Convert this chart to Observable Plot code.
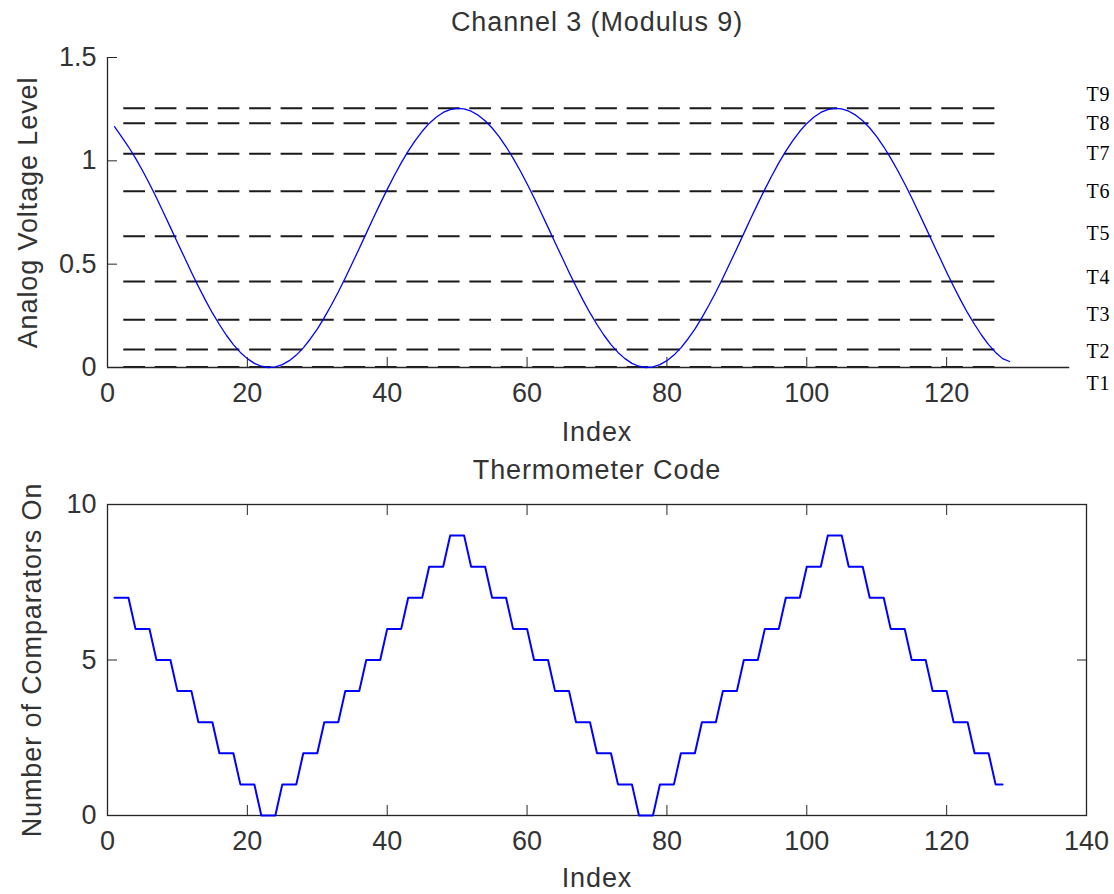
<!DOCTYPE html>
<html>
<head>
<meta charset="utf-8">
<script src="https://cdn.jsdelivr.net/npm/d3@7"></script>
<script src="https://cdn.jsdelivr.net/npm/@observablehq/plot@0.6"></script>
<style>
  html, body { margin: 0; padding: 0; background: #fff; }
  #wrap { position: relative; width: 1114px; height: 894px; overflow: hidden; background: #fff; }
  #wrap svg { display: block; }
  #wrap svg g[aria-label="text"] text { letter-spacing: 0.9px; }
</style>
</head>
<body>
<div id="wrap"></div>
<script>
// ---- Data ----
const topTitle = "Channel 3 (Modulus 9)";
const bottomTitle = "Thermometer Code";
const xLabel = "Index";
const topYLabel = "Analog Voltage Level";
const bottomYLabel = "Number of Comparators On";

// analog voltage, samples 1..129
const voltage = [
  1.165,1.117,1.068,1.013,0.953,0.889,0.821,0.750,0.678,0.605,0.533,0.461,0.392,0.326,0.264,0.208,0.156,0.111,0.073,0.043,0.020,0.006,
  0.000,
  0.003,0.014,0.033,0.060,0.095,0.138,0.186,0.241,0.301,0.365,0.433,0.504,0.576,0.649,0.722,0.793,0.862,0.928,0.990,1.047,1.098,1.143,1.181,1.211,1.234,1.248,1.254,
  1.251,1.240,1.221,1.194,1.159,1.117,1.068,1.013,0.953,0.889,0.821,0.750,0.678,0.605,0.533,0.461,0.392,0.326,0.264,0.208,0.156,0.111,0.073,0.043,0.020,0.006,0.000,
  0.003,0.014,0.033,0.060,0.095,0.138,0.186,0.241,0.301,0.365,0.433,0.504,0.576,0.649,0.722,0.793,0.862,0.928,0.990,1.047,1.098,1.143,1.181,1.211,1.234,1.248,1.254,
  1.251,1.240,1.221,1.194,1.159,1.117,1.068,1.013,0.953,0.889,0.821,0.750,0.678,0.605,0.533,0.461,0.392,0.326,0.264,0.208,0.156,0.111,0.073,0.043,0.029
];

// number of comparators on, samples 1..128
const comparators = [
  7,7,7,6,6,6,5,5,5,4,4,4,3,3,3,2,2,2,1,1,1,0,0,0,
  1,1,1,2,2,2,3,3,3,4,4,4,5,5,5,6,6,6,7,7,7,8,8,8,9,9,9,
  8,8,8,7,7,7,6,6,6,5,5,5,4,4,4,3,3,3,2,2,2,1,1,1,0,0,0,
  1,1,1,2,2,2,3,3,3,4,4,4,5,5,5,6,6,6,7,7,7,8,8,8,9,9,9,
  8,8,8,7,7,7,6,6,6,5,5,5,4,4,4,3,3,3,2,2,2,1,1
];

// comparator threshold levels T1..T9
const thresholds = [0.003, 0.087, 0.231, 0.416, 0.635, 0.853, 1.034, 1.182, 1.254];
const thresholdNames = ["T1","T2","T3","T4","T5","T6","T7","T8","T9"];
const thresholdLabelLevels = [-0.076, 0.077, 0.256, 0.437, 0.650, 0.849, 1.035, 1.182, 1.319];
const thresholdStart = 1, thresholdEnd = 128;

const xTicksTop = [0, 20, 40, 60, 80, 100, 120];
const xTicksBottom = [0, 20, 40, 60, 80, 100, 120, 140];
const yTicksTop = [0, 0.5, 1, 1.5];
const yTickLabelsTop = ["0", "0.5", "1", "1.5"];
const yTicksBottom = [0, 5, 10];
const xAxisEndTop = 137.6;

// ---- Styling ----
const FONT = "'Liberation Sans', Arial, Helvetica, sans-serif";
const INK = "#262626";
const TEXT = "#333333";
const BLUE = "#0000ff";

const common = {
  width: 1114,
  height: 447,
  marginLeft: 107,
  marginRight: 28,
  marginTop: 57,
  style: { fontFamily: FONT, fontSize: "27px", color: TEXT, background: "#fff", overflow: "visible" }
};

const topPts = voltage.map((v, i) => ({ idx: i + 1, v }));
const topChart = Plot.plot({
  ...common,
  marginBottom: 80,
  x: { domain: [0, 140] },
  y: { domain: [0, 1.5] },
  marks: [
    Plot.ruleY(thresholds, {
      y: d => d, x1: thresholdStart, x2: thresholdEnd,
      stroke: "#1a1a1a", strokeWidth: 2,
      strokeDasharray: "21.7,9.76", strokeDashoffset: 22.16
    }),
    Plot.ruleX([0], { y1: 0, y2: 1.5, stroke: INK, strokeWidth: 1.3 }),
    Plot.ruleY([0], { x1: 0, x2: xAxisEndTop, stroke: INK, strokeWidth: 1.3 }),
    Plot.line(topPts, { x: "idx", y: "v", stroke: BLUE, strokeWidth: 1.3 }),
    Plot.axisX({ ticks: xTicksTop, tickSize: -10, tickPadding: 25.3, tickFormat: d => String(d), label: null, stroke: INK }),
    Plot.axisY({ ticks: yTicksTop, tickSize: -10, tickPadding: 21, tickFormat: d => yTickLabelsTop[yTicksTop.indexOf(d)], label: null, stroke: INK }),
    Plot.text([topTitle], { frameAnchor: "top", lineAnchor: "middle", textAnchor: "middle", dy: -35, text: d => d }),
    Plot.text([xLabel], { frameAnchor: "bottom", lineAnchor: "middle", textAnchor: "middle", dy: 65, text: d => d }),
    Plot.text([topYLabel], { frameAnchor: "left", lineAnchor: "middle", textAnchor: "middle", dx: -79, rotate: -90, text: d => d }),
    Plot.text(thresholdNames, {
      y: (d, i) => thresholdLabelLevels[i], text: d => d,
      frameAnchor: "right", textAnchor: "start", lineAnchor: "middle", dx: 0,
      fontFamily: "'Liberation Serif', 'Times New Roman', serif", fontSize: 20, fill: "#000"
    })
  ]
});

const botPts = comparators.map((c, i) => ({ idx: i + 1, c }));
const bottomChart = Plot.plot({
  ...common,
  marginBottom: 79,
  x: { domain: [0, 140] },
  y: { domain: [0, 10] },
  marks: [
    Plot.frame({ stroke: INK, strokeWidth: 1.3 }),
    Plot.line(botPts, { x: "idx", y: "c", stroke: BLUE, strokeWidth: 2 }),
    Plot.axisX({ anchor: "bottom", ticks: xTicksBottom, tickSize: -10, tickPadding: 25.3, tickFormat: d => String(d), label: null, stroke: INK }),
    Plot.axisX({ anchor: "top", ticks: xTicksBottom, tickSize: -10, tickFormat: () => "", label: null, stroke: INK }),
    Plot.axisY({ anchor: "left", ticks: yTicksBottom, tickSize: -10, tickPadding: 21, tickFormat: d => String(d), label: null, stroke: INK }),
    Plot.axisY({ anchor: "right", ticks: yTicksBottom, tickSize: -10, tickFormat: () => "", label: null, stroke: INK }),
    Plot.text([bottomTitle], { frameAnchor: "top", lineAnchor: "middle", textAnchor: "middle", dy: -34, text: d => d }),
    Plot.text([xLabel], { frameAnchor: "bottom", lineAnchor: "middle", textAnchor: "middle", dy: 63, text: d => d }),
    Plot.text([bottomYLabel], { frameAnchor: "left", lineAnchor: "middle", textAnchor: "middle", dx: -75, rotate: -90, text: d => d })
  ]
});

const wrap = document.getElementById("wrap");
wrap.appendChild(topChart);
wrap.appendChild(bottomChart);
</script>
</body>
</html>
